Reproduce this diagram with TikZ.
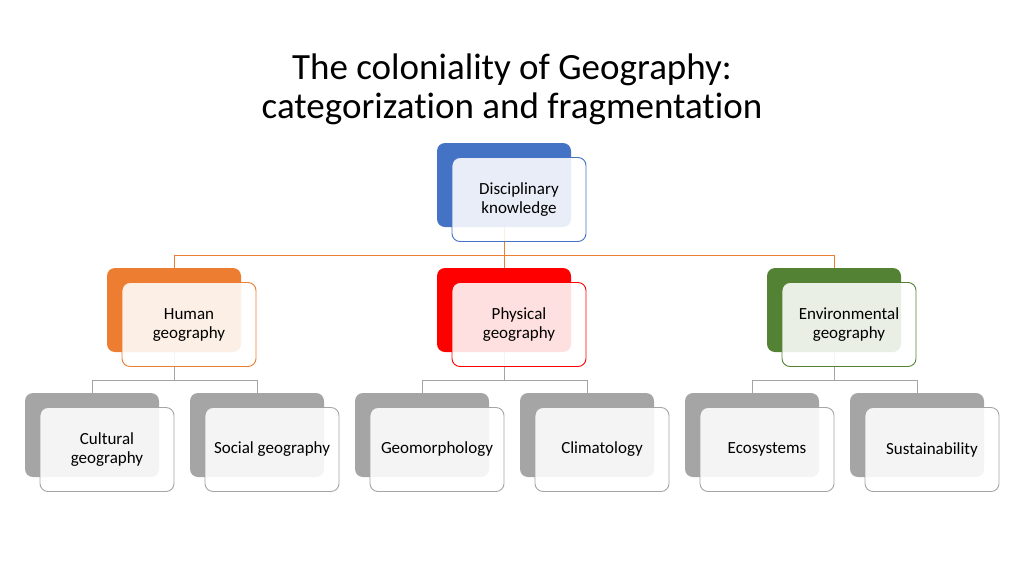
\documentclass[tikz,border=0pt]{standalone}
\usepackage{fontspec}
\setmainfont{Carlito}[Ligatures=NoCommon]
\usetikzlibrary{positioning}

\definecolor{discblue}{HTML}{4472C4}
\definecolor{humorange}{HTML}{ED7D31}
\definecolor{physred}{HTML}{FF0000}
\definecolor{envgreen}{HTML}{548235}
\definecolor{subgray}{HTML}{A5A5A5}

\begin{document}
\begin{tikzpicture}[x=1pt,y=-1pt,node distance=14.5pt and 15pt,
    backbox/.style={rounded corners=8pt,minimum width=134pt,minimum height=84pt,inner sep=0pt},
    frontbox/.style={backbox,draw,line width=0.9pt,fill=white,fill opacity=0.88,text opacity=1,
      align=center,font=\fontsize{17}{19}\selectfont,on grid,below right=of #1},
    topline/.style={humorange,line width=0.9pt},
    subline/.style={subgray,line width=0.9pt}]
    \useasboundingbox (0,0) rectangle (1024,576);

    \node[align=center,font=\fontsize{37}{39}\selectfont] (title) at (512,89)
        {The coloniality of Geography:\\categorization and fragmentation};

    % back boxes
    \node[backbox,fill=discblue]  (dkB) at (504,185) {};
    \node[backbox,fill=humorange] (hgB) at (174,310) {};
    \node[backbox,fill=physred]   (pgB) at (504,310) {};
    \node[backbox,fill=envgreen]  (egB) at (834,310) {};

    \node[backbox,fill=subgray] (cgB) at (92,435)  {};
    \node[backbox,fill=subgray] (sgB) at (257,435) {};
    \node[backbox,fill=subgray] (gmB) at (422,435) {};
    \node[backbox,fill=subgray] (clB) at (587,435) {};
    \node[backbox,fill=subgray] (esB) at (752,435) {};
    \node[backbox,fill=subgray] (suB) at (917,435) {};

    % connectors
    \draw[topline] (dkB.south) -- ++(0,28) -| (hgB.north);
    \draw[topline] (dkB.south) -- (pgB.north);
    \draw[topline] (dkB.south) -- ++(0,28) -| (egB.north);

    \draw[subline] (hgB.south) -- ++(0,28) -| (cgB.north);
    \draw[subline] (hgB.south) -- ++(0,28) -| (sgB.north);
    \draw[subline] (pgB.south) -- ++(0,28) -| (gmB.north);
    \draw[subline] (pgB.south) -- ++(0,28) -| (clB.north);
    \draw[subline] (egB.south) -- ++(0,28) -| (esB.north);
    \draw[subline] (egB.south) -- ++(0,28) -| (suB.north);

    % front boxes
    \node[frontbox=dkB,draw=discblue]  (dk) {Disciplinary\\knowledge};
    \node[frontbox=hgB,draw=humorange] (hg) {Human\\geography};
    \node[frontbox=pgB,draw=physred]   (pg) {Physical\\geography};
    \node[frontbox=egB,draw=envgreen]  (eg) {Environmental\\geography};

    \node[frontbox=cgB,draw=subgray] (cg) {Cultural\\geography};
    \node[frontbox=sgB,draw=subgray] (sg) {Social geography};
    \node[frontbox=gmB,draw=subgray] (gm) {Geomorphology};
    \node[frontbox=clB,draw=subgray] (cl) {Climatology};
    \node[frontbox=esB,draw=subgray] (es) {Ecosystems};
    \node[frontbox=suB,draw=subgray] (su) {Sustainability};

  \end{tikzpicture}
\end{document}
